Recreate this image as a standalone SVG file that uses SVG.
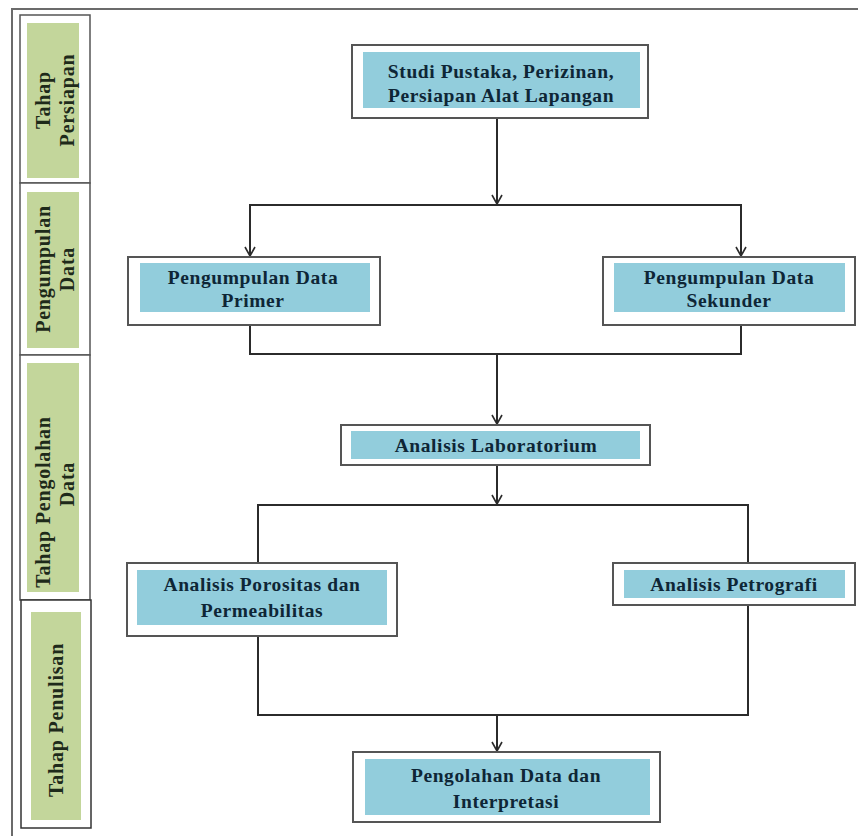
<svg xmlns="http://www.w3.org/2000/svg" width="858" height="836" viewBox="0 0 858 836">
<defs>
<style>
.frame{fill:none;stroke:#6b6b6b;stroke-width:2}
.lane{fill:#fff;stroke:#555;stroke-width:1.5}
.lanefill{fill:#c3d69b}
.box{fill:#fff;stroke:#555;stroke-width:2}
.inner{fill:#92cddc}
.t{font-family:"Liberation Serif","Times New Roman",serif;font-weight:bold;font-size:19.5px;letter-spacing:0.6px;fill:#0e2636;text-anchor:middle}
.lt{font-family:"Liberation Serif","Times New Roman",serif;font-weight:bold;font-size:20px;letter-spacing:0.8px;fill:#1e2a1a;text-anchor:middle}
.c{fill:none;stroke:#2b2b2b;stroke-width:2}
</style>
<marker id="arr" viewBox="0 0 12 12" refX="11" refY="6" markerWidth="12" markerHeight="12" markerUnits="userSpaceOnUse" orient="auto">
<path d="M2,1 L11,6 L2,11" fill="none" stroke="#2b2b2b" stroke-width="1.6"/>
</marker>
</defs>
<rect width="858" height="836" fill="#fff"/>
<path class="frame" d="M12,836 V9 H858"/>

<g id="lane1">
<rect class="lane" x="20" y="15" width="70" height="168"/>
<rect class="lanefill" x="27" y="23" width="52" height="155"/>
<text class="lt" transform="translate(50,100) rotate(-90)">Tahap</text>
<text class="lt" transform="translate(74,100) rotate(-90)">Persiapan</text>
</g>
<g id="lane2">
<rect class="lane" x="20" y="183" width="70" height="172"/>
<rect class="lanefill" x="27" y="192" width="52" height="156"/>
<text class="lt" transform="translate(50,269) rotate(-90)">Pengumpulan</text>
<text class="lt" transform="translate(74,269) rotate(-90)">Data</text>
</g>
<g id="lane3">
<rect class="lane" x="20" y="355" width="70" height="245"/>
<rect class="lanefill" x="27" y="363" width="52" height="229"/>
<text class="lt" transform="translate(50,502) rotate(-90)">Tahap Pengolahan</text>
<text class="lt" transform="translate(74,484) rotate(-90)">Data</text>
</g>
<g id="lane4">
<rect class="lane" x="21" y="600" width="70" height="228" style="stroke:#333"/>
<rect class="lanefill" x="31" y="612" width="50" height="208"/>
<text class="lt" transform="translate(63,720) rotate(-90)">Tahap Penulisan</text>
</g>

<g id="connectors">
<line class="c" x1="497" y1="118" x2="497" y2="204" marker-end="url(#arr)"/>
<path class="c" d="M250,240 V205 H741 V240"/>
<line class="c" x1="250" y1="205" x2="250" y2="256" marker-end="url(#arr)"/>
<line class="c" x1="741" y1="205" x2="741" y2="256" marker-end="url(#arr)"/>
<path class="c" d="M250,325 V354 H741 V325"/>
<line class="c" x1="497" y1="354" x2="497" y2="424" marker-end="url(#arr)"/>
<line class="c" x1="497" y1="465" x2="497" y2="504" marker-end="url(#arr)"/>
<path class="c" d="M258,563 V505 H748 V715 H258 V632"/>
<line class="c" x1="497" y1="715" x2="497" y2="751" marker-end="url(#arr)"/>
</g>

<g id="n1">
<rect class="box" x="352" y="45" width="296" height="73"/>
<rect class="inner" x="363" y="52" width="277" height="56"/>
<text class="t" x="501" y="78">Studi Pustaka, Perizinan,</text>
<text class="t" x="501" y="102">Persiapan Alat Lapangan</text>
</g>
<g id="n2">
<rect class="box" x="128" y="257" width="252" height="68"/>
<rect class="inner" x="140" y="263" width="230" height="49"/>
<text class="t" x="253" y="284">Pengumpulan Data</text>
<text class="t" x="253" y="307">Primer</text>
</g>
<g id="n3">
<rect class="box" x="603" y="257" width="252" height="68"/>
<rect class="inner" x="614" y="263" width="231" height="49"/>
<text class="t" x="729" y="284">Pengumpulan Data</text>
<text class="t" x="729" y="307">Sekunder</text>
</g>
<g id="n4">
<rect class="box" x="341" y="425" width="309" height="40"/>
<rect class="inner" x="351" y="431" width="289" height="28"/>
<text class="t" x="496" y="452">Analisis Laboratorium</text>
</g>
<g id="n5">
<rect class="box" x="127" y="563" width="270" height="73"/>
<rect class="inner" x="137" y="570" width="250" height="55"/>
<text class="t" x="262" y="591">Analisis Porositas dan</text>
<text class="t" x="262" y="617">Permeabilitas</text>
</g>
<g id="n6">
<rect class="box" x="613" y="563" width="242" height="42"/>
<rect class="inner" x="624" y="570" width="221" height="28"/>
<text class="t" x="734" y="591">Analisis Petrografi</text>
</g>
<g id="n7">
<rect class="box" x="353" y="752" width="307" height="70"/>
<rect class="inner" x="365" y="759" width="285" height="56"/>
<text class="t" x="506" y="782">Pengolahan Data dan</text>
<text class="t" x="506" y="808">Interpretasi</text>
</g>
</svg>
